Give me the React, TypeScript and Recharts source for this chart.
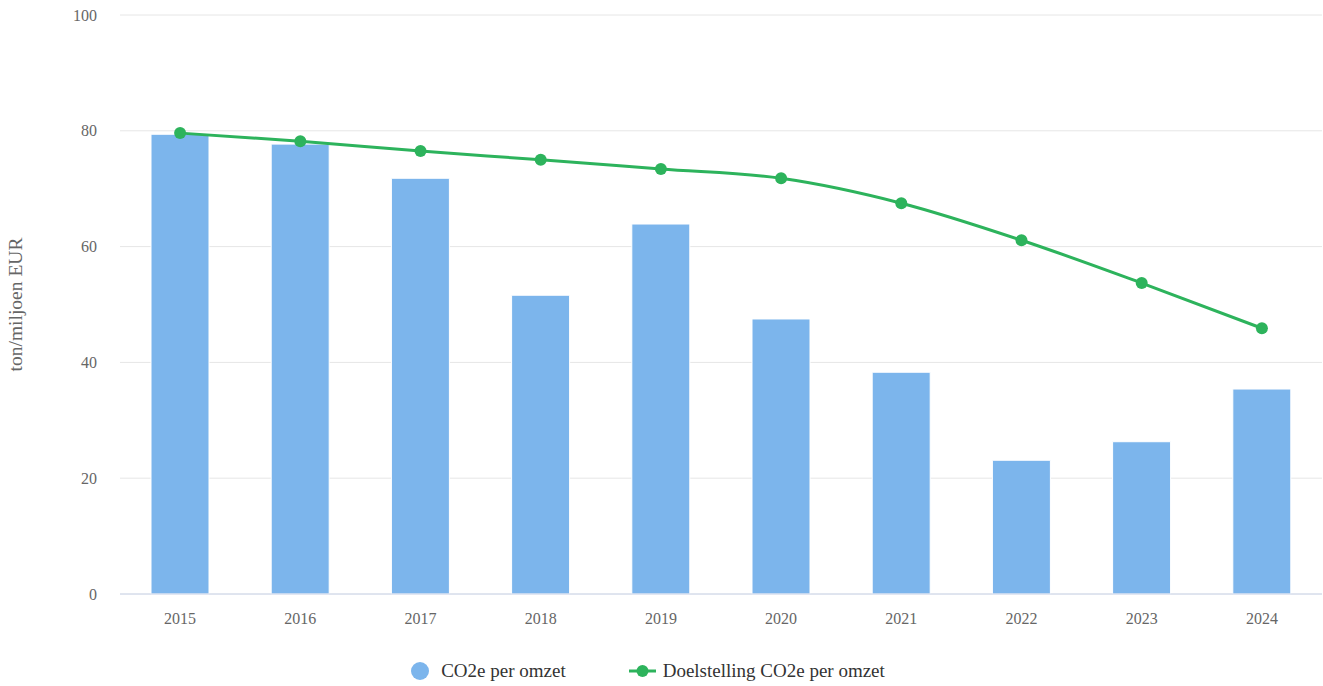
import React from "react";
import {
  ComposedChart,
  Bar,
  Line,
  XAxis,
  YAxis,
  CartesianGrid,
  Legend,
} from "recharts";

const years = ["2015", "2016", "2017", "2018", "2019", "2020", "2021", "2022", "2023", "2024"];
const co2PerOmzet = [79.4, 77.7, 71.8, 51.6, 63.9, 47.5, 38.3, 23.1, 26.3, 35.4];
const doelstelling = [79.6, 78.2, 76.5, 75.0, 73.4, 71.8, 67.5, 61.1, 53.7, 45.9];
const yTicks = [0, 20, 40, 60, 80, 100];

const BAR = "#7cb5ec";
const GREEN = "#2db35c";
const GRID = "#e6e6e6";
const AXIS = "#ccd6eb";
const TEXT = "#666666";
const FONT = "'Liberation Serif', 'Times New Roman', serif";

const data = years.map((y, i) => ({
  year: y,
  co2: co2PerOmzet[i],
  doel: doelstelling[i],
}));

function ChartLegend() {
  return (
    <div
      style={{
        display: "flex",
        justifyContent: "center",
        alignItems: "center",
        height: 30,
        fontFamily: FONT,
        fontSize: 19,
        color: "#333333",
        paddingRight: 26,
      }}
    >
      <span style={{ display: "inline-flex", alignItems: "center", gap: 12 }}>
        <svg width={18} height={18}>
          <circle cx={9} cy={9} r={9} fill={BAR} />
        </svg>
        CO2e per omzet
      </span>
      <span style={{ display: "inline-flex", alignItems: "center", gap: 7, marginLeft: 63 }}>
        <svg width={27} height={14}>
          <line x1={0} y1={7} x2={27} y2={7} stroke={GREEN} strokeWidth={3} />
          <circle cx={13.5} cy={7} r={6} fill={GREEN} />
        </svg>
        Doelstelling CO2e per omzet
      </span>
    </div>
  );
}

export default function App() {
  return (
    <div style={{ width: 1323, height: 686, background: "#ffffff" }}>
      <style>{"body{margin:0}"}</style>
      <ComposedChart
        width={1323}
        height={686}
        data={data}
        margin={{ top: 15, right: 1, left: 0, bottom: 0 }}
      >
        <CartesianGrid stroke={GRID} vertical={false} />
        <XAxis
          dataKey="year"
          axisLine={{ stroke: AXIS }}
          tickLine={false}
          tick={{ fill: TEXT, fontSize: 16, fontFamily: FONT }}
          tickMargin={13}
          height={62}
        />
        <YAxis
          domain={[0, 100]}
          ticks={yTicks}
          axisLine={false}
          tickLine={false}
          tickSize={0}
          tickMargin={23}
          width={120}
          tick={{ fill: TEXT, fontSize: 16, fontFamily: FONT }}
          label={{
            value: "ton/miljoen EUR",
            angle: -90,
            position: "insideLeft",
            offset: 15,
            style: { fill: TEXT, fontSize: 19.5, fontFamily: FONT, textAnchor: "middle" },
          }}
        />
        <Legend verticalAlign="bottom" height={30} content={() => <ChartLegend />} />
        <Bar
          dataKey="co2"
          name="CO2e per omzet"
          fill={BAR}
          stroke="#ffffff"
          strokeWidth={1}
          barSize={58}
          isAnimationActive={false}
        />
        <Line
          type="monotone"
          dataKey="doel"
          name="Doelstelling CO2e per omzet"
          stroke={GREEN}
          strokeWidth={3}
          dot={{ r: 6, fill: GREEN, stroke: GREEN, strokeWidth: 0 }}
          activeDot={false}
          isAnimationActive={false}
        />
      </ComposedChart>
    </div>
  );
}
